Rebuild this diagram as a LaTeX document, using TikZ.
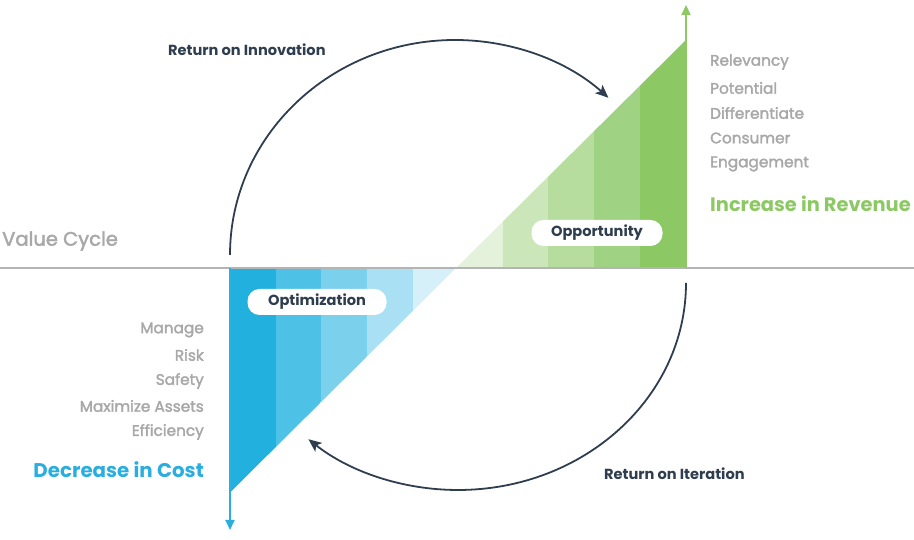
\documentclass[tikz,border=0pt]{standalone}
\usepackage{fontspec}
\setmainfont{Poppins}
\newfontfamily\medfont{Poppins}[FakeBold=2.2]
\usetikzlibrary{arrows.meta}
\definecolor{navy}{HTML}{2F3E4E}
\definecolor{txtgray}{HTML}{A8A8A8}
\definecolor{axisgray}{HTML}{B4B4B4}
\definecolor{gdark}{HTML}{8CC864}
\definecolor{gA}{HTML}{8CC864}
\definecolor{gB}{HTML}{A0D284}
\definecolor{gC}{HTML}{B6DD9E}
\definecolor{gD}{HTML}{CBE7B9}
\definecolor{gE}{HTML}{E5F2DB}
\definecolor{bdark}{HTML}{2AAEE0}
\definecolor{bA}{HTML}{22B0DE}
\definecolor{bB}{HTML}{4EC1E6}
\definecolor{bC}{HTML}{7BD0EC}
\definecolor{bD}{HTML}{A9E0F3}
\definecolor{bE}{HTML}{D5F0F9}
\tikzset{
  listitem/.style={text=txtgray, font=\medfont\fontsize{15.3}{17}\selectfont, inner sep=0pt},
  ret/.style={text=navy, font=\bfseries\fontsize{14.6}{16}\selectfont, inner sep=0pt},
  pill/.style={fill=white, rounded corners=12pt, text=navy, font=\bfseries\fontsize{14.6}{16}\selectfont, minimum height=26pt, inner sep=0pt},
  cyclearrow/.style={draw=navy, line width=1.8pt, -{Stealth[length=13pt,width=11pt,inset=3pt]}},
}
\begin{document}
\begin{tikzpicture}[x=1pt,y=1pt]
\useasboundingbox (0,0) rectangle (914,540);
% green triangle bands
\begin{scope}
\clip (456,272) -- (686,500) -- (686,272) -- cycle;
\fill[gE] (456,272) rectangle (503,500);
\fill[gD] (503,272) rectangle (548,500);
\fill[gC] (548,272) rectangle (594,500);
\fill[gB] (594,272) rectangle (640,500);
\fill[gA] (640,272) rectangle (686.5,500);
\end{scope}
% blue triangle bands
\begin{scope}
\clip (229.5,272) -- (456,272) -- (229.5,47) -- cycle;
\fill[bA] (229.5,272) rectangle (276,47);
\fill[bB] (276,272) rectangle (321,47);
\fill[bC] (321,272) rectangle (367,47);
\fill[bD] (367,272) rectangle (413,47);
\fill[bE] (413,272) rectangle (457,47);
\end{scope}
% axis
\coordinate (axL) at (0,272);
\coordinate (axR) at (914,272);
\draw[axisgray, line width=2pt] (axL) -- (axR);
% vertical arrows
\coordinate (gbase) at (686,272);
\coordinate (gtip) at (686,535);
\draw[gdark, line width=2pt, -{Triangle[length=10pt,width=9pt]}] (gbase) -- (gtip);
\coordinate (bbase) at (230,272);
\coordinate (btip) at (230,10);
\draw[bdark, line width=2pt, -{Triangle[length=10pt,width=9pt]}] (bbase) -- (btip);
% cycle arrows
\coordinate (innovStart) at (230,285);
\draw[cyclearrow] (innovStart) arc[start angle=180, end angle=47, x radius=225, y radius=215];
\coordinate (iterStart) at (686,257);
\draw[cyclearrow] (iterStart) arc[start angle=0, end angle=-131, x radius=228, y radius=207];
% labels
\node[ret, anchor=west] (roi) at (168,490) {Return on Innovation};
\node[ret, anchor=west] (rit) at (604,66) {Return on Iteration};
\node[anchor=west, inner sep=0pt, text=txtgray, font=\medfont\fontsize{19.5}{21}\selectfont] (vc) at (2,299) {Value Cycle};
\node[anchor=west, inner sep=0pt, text=gdark, font=\bfseries\fontsize{19.4}{21}\selectfont] (inc) at (710,336) {Increase in Revenue};
\node[anchor=east, inner sep=0pt, text=bdark, font=\bfseries\fontsize{19.8}{21}\selectfont] (dec) at (204,70) {Decrease in Cost};
% right list
\node[listitem, anchor=west] (r1) at (710,478) {Relevancy};
\node[listitem, anchor=west] (r2) at (710,452) {Potential};
\node[listitem, anchor=west] (r3) at (710,427) {Differentiate};
\node[listitem, anchor=west] (r4) at (710,402) {Consumer};
\node[listitem, anchor=west] (r5) at (710,376) {Engagement};
% left list
\node[listitem, anchor=east] (l1) at (204,210) {Manage};
\node[listitem, anchor=east] (l2) at (204,185) {Risk};
\node[listitem, anchor=east] (l3) at (204,159) {Safety};
\node[listitem, anchor=east] (l4) at (204,134) {Maximize Assets};
\node[listitem, anchor=east] (l5) at (204,108) {Efficiency};
% pills
\node[pill, minimum width=131pt] (opp) at (597,307) {Opportunity};
\node[pill, minimum width=139pt] (opt) at (317,238) {Optimization};
\end{tikzpicture}
\end{document}
